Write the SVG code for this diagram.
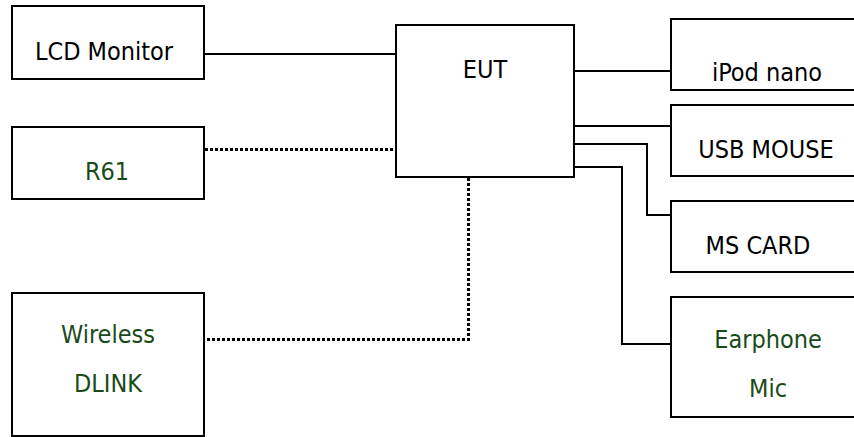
<svg xmlns="http://www.w3.org/2000/svg" width="854" height="437" viewBox="0 0 854 437">
<style>
.box{fill:#fff;stroke:#000;stroke-width:2}
.lbl{font-family:"DejaVu Sans Condensed","Liberation Sans",Arial,sans-serif;font-size:25px;fill:#000;text-anchor:middle}
.g{fill:#1a4a1a}
.solid{fill:none;stroke:#000;stroke-width:2}
.dot{fill:none;stroke:#000;stroke-width:3;stroke-dasharray:3 2}
</style>
<rect width="854" height="437" fill="#fff"/>
<g id="connectors">
<line class="solid" x1="204" y1="54" x2="396" y2="54"/>
<line class="dot" x1="205" y1="149.5" x2="395" y2="149.5"/>
<polyline class="dot" points="468.5,178 468.5,339.5 205,339.5"/>
<line class="solid" x1="574" y1="71" x2="671" y2="71"/>
<line class="solid" x1="574" y1="126" x2="671" y2="126"/>
<polyline class="solid" points="574,144 647,144 647,215 671,215"/>
<polyline class="solid" points="574,167 622,167 622,344 671,344"/>
</g>
<g id="lcd"><rect class="box" x="12" y="6" width="192" height="73"/><text class="lbl" x="104" y="60">LCD Monitor</text></g>
<g id="r61"><rect class="box" x="12" y="127" width="192" height="72"/><text class="lbl g" x="107" y="180">R61</text></g>
<g id="wireless"><rect class="box" x="12" y="293" width="192" height="143"/><text class="lbl g" x="108" y="343">Wireless</text><text class="lbl g" x="108" y="392">DLINK</text></g>
<g id="eut"><rect class="box" x="396" y="25" width="178" height="152"/><text class="lbl" x="485" y="78">EUT</text></g>
<g id="ipod"><rect class="box" x="671" y="19" width="200" height="71"/><text class="lbl" x="767" y="81">iPod nano</text></g>
<g id="mouse"><rect class="box" x="671" y="105" width="200" height="71"/><text class="lbl" x="766" y="158">USB MOUSE</text></g>
<g id="mscard"><rect class="box" x="671" y="201" width="200" height="71"/><text class="lbl" x="758" y="254">MS CARD</text></g>
<g id="earphone"><rect class="box" x="671" y="297" width="200" height="120"/><text class="lbl g" x="768" y="348">Earphone</text><text class="lbl g" x="768" y="397">Mic</text></g>
</svg>
